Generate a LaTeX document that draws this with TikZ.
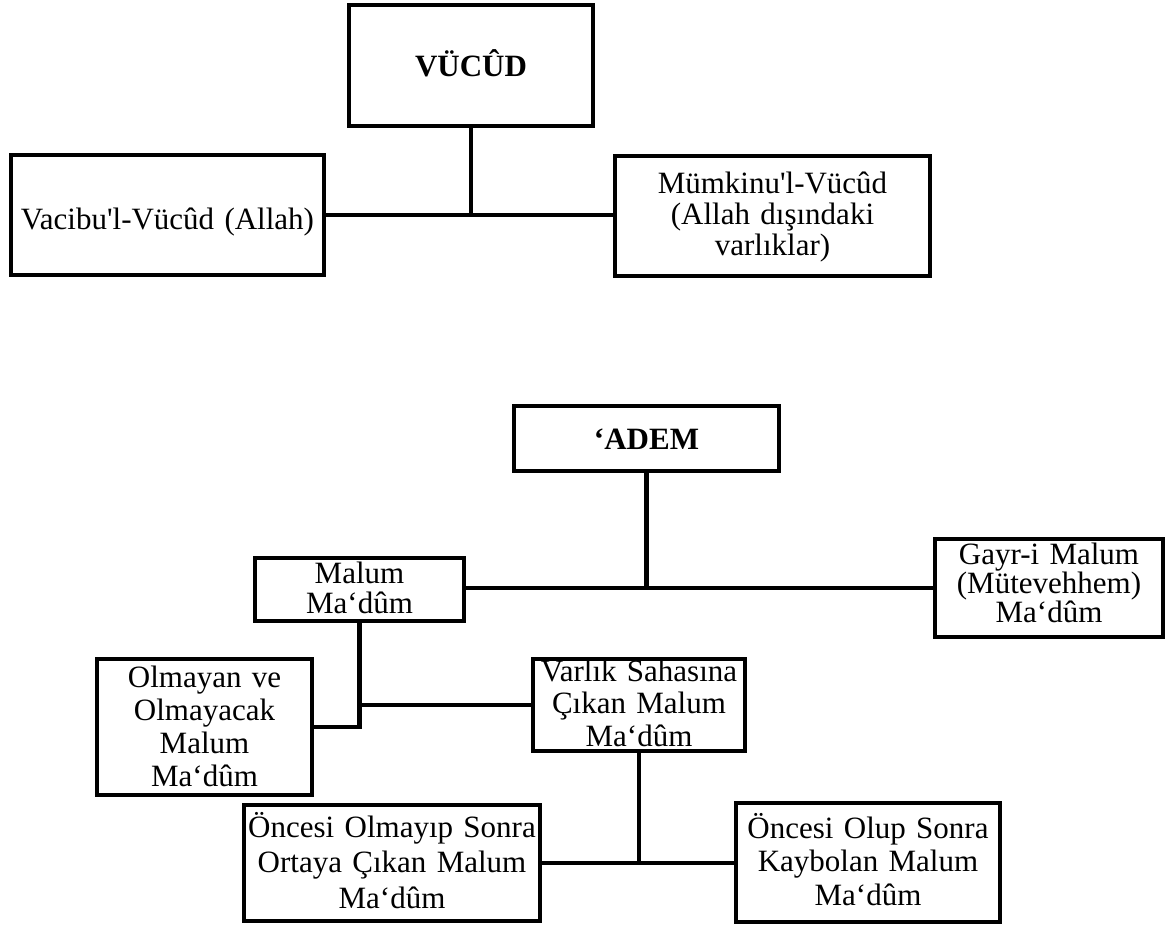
\documentclass[tikz,border=0pt]{standalone}
\usepackage{fontspec}
\setmainfont{Liberation Serif}
\begin{document}
\begin{tikzpicture}[x=1pt,y=-1pt,
  box/.style={draw=black,line width=4.2pt,inner sep=0pt,align=center},
  fs/.style={font={\fontsize{31}{#1}\selectfont\lineskiplimit=-100pt\relax}},
  conn/.style={draw=black,line width=4.2pt}]
\useasboundingbox (0,0) rectangle (1175,924);
% top tree
\node[box,fs=33,text width=244pt,text height=71pt,text depth=50pt] (vucud) at (471,65.5) {\textbf{VÜCÛD}};
\node[box,fs=33,text width=313pt,text height=74pt,text depth=46pt] (vacib) at (167.5,215) {Vacibu\textquotesingle l-Vücûd (Allah)};
\node[box,fs=31,text width=315pt,text height=37pt,text depth=83pt] (mumkin) at (772.5,216) {Mümkinu\textquotesingle l-Vücûd\\(Allah dışındaki\\varlıklar)};
% bottom tree
\node[box,fs=33,text width=265pt,text height=43pt,text depth=22pt] (adem) at (646.5,438.5) {\textbf{‘ADEM}};
\node[box,fs=30,text width=209pt,text height=25pt,text depth=38pt] (malum) at (359.5,589.5) {Malum\\Ma‘dûm};
\node[box,fs=29,text width=228pt,text height=25pt,text depth=73pt] (gayri) at (1049,588) {Gayr-i Malum\\(Mütevehhem)\\Ma‘dûm};
\node[box,fs=33,text width=215pt,text height=28pt,text depth=108pt] (olmayan) at (204.5,727) {Olmayan ve\\Olmayacak\\Malum\\Ma‘dûm};
\node[box,fs=32.5,text width=212pt,text height=22pt,text depth=70pt] (varlik) at (639,705) {Varlık Sahasına\\Çıkan Malum\\Ma‘dûm};
\node[box,fs=35.5,text width=296pt,text height=32pt,text depth=84pt] (onceO) at (392,863) {Öncesi Olmayıp Sonra\\Ortaya Çıkan Malum\\Ma‘dûm};
\node[box,fs=33.5,text width=264pt,text height=35pt,text depth=84pt] (onceU) at (868,862.5) {Öncesi Olup Sonra\\Kaybolan Malum\\Ma‘dûm};
% connectors
\draw[conn] (vucud.south) -- (vucud.south |- vacib.east);
\draw[conn] (vacib.east) -- (vacib.east -| mumkin.west);
\draw[conn] (adem.south) -- (adem.south |- gayri.west);
\draw[conn] (malum.east |- gayri.west) -- (gayri.west);
\draw[conn] (malum.south) -- (malum.south |- olmayan.east) -- (olmayan.east);
\draw[conn] (malum.south |- varlik.west) -- (varlik.west);
\draw[conn] (varlik.south) -- (varlik.south |- onceO.east);
\draw[conn] (onceO.east) -- (onceO.east -| onceU.west);
\end{tikzpicture}
\end{document}
